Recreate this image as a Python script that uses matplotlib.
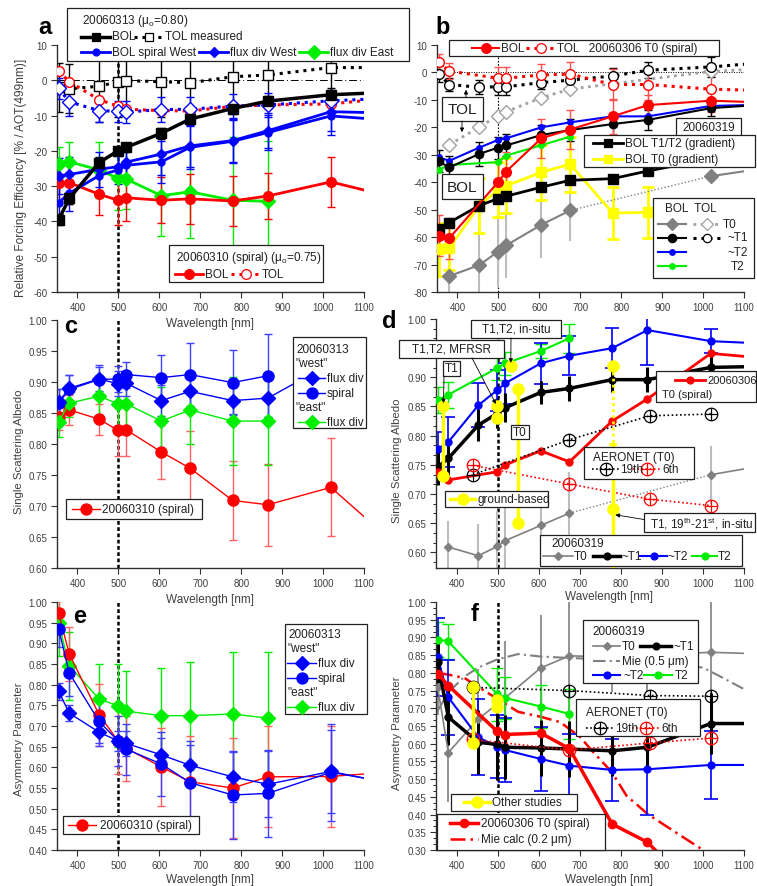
import matplotlib
matplotlib.use("Agg")
import matplotlib.pyplot as plt
import numpy as np
from matplotlib.patches import Rectangle
from matplotlib.ticker import MultipleLocator, AutoMinorLocator, FormatStrFormatter, FuncFormatter

plt.rcParams["font.family"] = ["Liberation Sans", "DejaVu Sans"]
plt.rcParams["axes.unicode_minus"] = False
plt.rcParams["mathtext.fontset"] = "custom"
plt.rcParams["mathtext.rm"] = "Liberation Sans"
plt.rcParams["mathtext.it"] = "Liberation Sans:italic"

nan = np.nan
W, H = 757, 887

# AATS-14 channels; 1241 nm lies past the right edge of every panel
WL = [354, 380, 453, 499, 519, 605, 675, 779, 865, 1019]
WL_X = WL + [1241]

# ---- a: relative forcing efficiency, 20060313 / 20060310
a_bol_0313 = [-39.5, -33.5, -23.3, -20.0, -19.0, -15.0, -11.0, -8.0, -5.9, -4.1, -3.0]
a_bol_0313_err = [1.5, 1.5, 1.5, 1.2, 1.2, 1.5, 1.5, 1.5, 1.5, 2.0, nan]
a_tol_0313 = [-2.0, -2.4, -1.7, -0.4, -0.1, -0.4, -0.7, 1.0, 1.5, 3.6, 3.6]
a_tol_0313_err = [7, 7, 10, 10, 10, 10, 10, 10, 8, 8, nan]
a_bol_0310 = [-29.2, -29.0, -32.3, -34.0, -33.3, -34.0, -33.6, -34.2, -32.8, -28.8, -35.1]
a_bol_0310_err = [5, 6, 6, 7, 6.5, 6.5, 7, 7, 6.5, 7.2, nan]
a_tol_0310 = [2.6, -0.4, -5.5, -7.3, -8.2, -8.6, -8.7, -7.4, -7.0, -6.7, -4.2]
a_spiral_w = [-34.7, -32.0, -27.0, -25.4, -24.1, -23.1, -19.0, -17.3, -14.8, -10.1, -12.0]
a_fluxdiv_w = [-27.1, -26.7, -25.2, -24.5, -23.2, -20.9, -18.6, -17.1, -14.3, -8.9, -9.5]
a_blue_err = [5, 5, 5, 4, 4, 6, 6, 6, 5, 5.5, nan]
a_fluxdiv_w_tol = [-2.3, -6.1, -8.6, -8.8, -9.0, -8.3, -8.2, -7.3, -7.0, -5.8, -4.7]
a_fluxdiv_w_tol_err = [3, 4, 3.2, 3, 3, 3.5, 3.5, 3.5, 3.5, 3, nan]
a_fluxdiv_e = [-23.8, -23.1, -25.4, -27.8, -28.0, -32.7, -31.6, -34.0, -34.3]
a_fluxdiv_e_err = [5, 5.5, 8, 9, 8.5, 11.5, 13, 18, 17]

# ---- b: 20060306 / 20060319
WL_B_RED = [354, 380, 499, 519, 605, 675, 779, 865, 1019, 1241]
b_bol_0306 = [-59.5, -60.4, -40.0, -36.1, -24.0, -20.8, -16.0, -11.9, -10.3, -11.4]
b_bol_0306_err = [7.5, 7.5, 7.5, 7, 7, 7, 6.5, 3.5, 4, nan]
b_tol_0306 = [3.8, 0.5, -2.1, -2.1, -0.9, -0.6, -4.4, -4.4, -6.1, -6.9]
b_tol_0306_err = [3, 3, 4, 4, 4, 4.5, 5.5, 5.5, 5, nan]
b_bol_t1 = [-32.4, -34.6, -29.7, -27.4, -26.6, -22.8, -21.0, -18.8, -17.3, -13.0, -10.8]
b_bol_t1_err = [4, 4, 4.5, 4, 4, 3.5, 4, 4, 3.5, 3, nan]
b_tol_t1 = [-0.6, -4.4, -5.4, -5.2, -5.2, -3.7, -2.8, -1.3, 0.8, 2.0, 4.7]
b_tol_t1_err = [3, 2.5, 2.5, 3, 3, 2.5, 3, 3, 3, 3.5, nan]
b_bol_t2a = [-30.9, -32.2, -27.4, -24.6, -24.0, -20.0, -18.2, -16.0, -16.0, -12.2, -11.4]
WL_B_T2 = [354, 380, 499, 519, 605, 675]
b_bol_t2 = [-35.5, -33.7, -32.7, -30.3, -26.5, -23.4]
WL_B_T0 = [380, 453, 499, 519, 605, 675]
b_bol_t0 = [-74.2, -70.2, -65.3, -63.0, -55.5, -50.3]
b_bol_t0_err = [12, 13, 13, 12, 12, 11]
b_tol_t0 = [-26.3, -20.0, -15.7, -14.3, -9.2, -6.1]
WL_B_T0_FAR = [1019, 1241]
b_bol_t0_far = [-37.8, -32.9]
b_tol_t0_far = [0.4, 2.0]
b_grad_t12 = [-57.0, -54.7, -48.5, -46.0, -45.1, -41.8, -39.3, -38.7, -35.9, -31.5]
b_grad_t0 = [-64.5, -64.0, -48.5, -42.8, -41.3, -36.4, -33.4, -51.2, -51.0]
b_grad_t0_err = [9.5, 8, 10, 10, 10, 10, 10, 9.4, 9.4]

# ---- c: single scattering albedo, 20060313 / 20060310
c_spiral_w = [0.866, 0.888, 0.904, 0.905, 0.912, 0.907, 0.912, 0.899, 0.910]
c_spiral_w_err = [0.022, 0.023, 0.023, 0.021, 0.021, 0.037, 0.051, 0.052, 0.067]
c_fluxdiv_w = [0.868, 0.890, 0.905, 0.897, 0.898, 0.870, 0.885, 0.870, 0.874, 0.930]
c_fluxdiv_w_err = [0.02, 0.022, 0.02, 0.02, 0.02, 0.025, 0.025, 0.022, 0.03, nan]
c_fluxdiv_e = [0.836, 0.866, 0.877, 0.865, 0.865, 0.837, 0.855, 0.837, 0.837]
c_fluxdiv_e_err = [0.025, 0.022, 0.035, 0.04, 0.045, 0.055, 0.055, 0.071, 0.071]
c_spiral_0310 = [0.843, 0.855, 0.840, 0.822, 0.823, 0.787, 0.761, 0.709, 0.702, 0.730, 0.601]
c_spiral_0310_err = [0.02, 0.024, 0.025, 0.042, 0.042, 0.044, 0.06, 0.064, 0.066, 0.079, nan]

# ---- d: single scattering albedo, 20060319 / 20060306
WL_D_T0 = [380, 453, 499, 519, 605, 675]
d_t0 = [0.609, 0.594, 0.610, 0.620, 0.646, 0.667]
d_t0_err = [0.045, 0.055, 0.06, 0.07, 0.05, 0.07]
WL_D_T0_FAR = [1019, 1241]
d_t0_far = [0.733, 0.760]
d_t0_far_err = [0.05, nan]
d_t1 = [0.746, 0.761, 0.818, 0.838, 0.848, 0.874, 0.881, 0.896, 0.896, 0.917, 0.920]
d_t1_err = [0.03, 0.03, 0.028, 0.025, 0.025, 0.02, 0.022, 0.022, 0.022, 0.022, nan]
d_t2a = [0.777, 0.789, 0.852, 0.878, 0.890, 0.924, 0.937, 0.950, 0.981, 0.962, 0.955]
d_t2a_err = [0.03, 0.043, 0.038, 0.035, 0.035, 0.035, 0.033, 0.034, 0.06, 0.02, nan]
WL_D_T2 = [354, 380, 499, 519, 605, 675]
d_t2 = [0.861, 0.870, 0.916, 0.924, 0.945, 0.967]
d_t2_err = [0.023, 0.022, 0.02, 0.02, 0.012, 0.025]
d_0306 = [0.738, 0.724, 0.738, 0.750, 0.774, 0.755, 0.825, 0.863, 0.941, 0.927]
AERONET_WL = [440, 675, 870, 1020]
d_aeronet_19 = [0.733, 0.793, 0.834, 0.837]
d_aeronet_06 = [0.749, 0.717, 0.691, 0.680]
d_ground_wl = [368, 499, 550]
d_ground_hi = [0.851, 0.850, 0.880]
d_ground_lo = [0.731, 0.830, 0.650]
d_insitu_t12 = (532, 0.920)
d_insitu_t1_wl = 780
d_insitu_t1_top = 0.920
d_insitu_t1 = 0.675
d_insitu_t1_range = (0.785, 0.550)

# ---- e: asymmetry parameter, 20060313 / 20060310
e_spiral_0310 = [0.973, 0.874, 0.727, 0.664, 0.646, 0.601, 0.565, 0.550, 0.577, 0.578, 0.594]
e_spiral_0310_err = [0.03, 0.065, 0.075, 0.08, 0.078, 0.095, 0.11, 0.12, 0.122, 0.122, nan]
e_fluxdiv_w = [0.784, 0.731, 0.685, 0.664, 0.658, 0.630, 0.605, 0.577, 0.559, 0.590, 0.546]
e_fluxdiv_w_err = [0.02, 0.02, 0.025, 0.025, 0.03, 0.04, 0.05, 0.06, 0.08, 0.1, nan]
e_spiral_w = [0.935, 0.828, 0.711, 0.664, 0.644, 0.608, 0.563, 0.533, 0.537, 0.588, 0.550]
e_spiral_w_err = [0.045, 0.055, 0.06, 0.06, 0.062, 0.077, 0.1, 0.107, 0.105, 0.117, nan]
e_fluxdiv_e = [0.949, 0.846, 0.765, 0.749, 0.736, 0.725, 0.725, 0.729, 0.719]
e_fluxdiv_e_err = [0.08, 0.082, 0.084, 0.1, 0.098, 0.115, 0.131, 0.151, 0.161]

# ---- f: asymmetry parameter, 20060319 / 20060306
WL_F_T0 = [354, 380, 453, 519, 605, 675, 779, 865, 1019, 1241]
f_t0 = [0.760, 0.575, 0.670, 0.730, 0.814, 0.848, 0.845, 0.850, 0.858, 0.850]
f_t0_err = [0.08, 0.14, 0.14, 0.16, 0.15, 0.16, 0.10, 0.10, 0.16, nan]
f_t1 = [0.830, 0.675, 0.604, 0.598, 0.590, 0.588, 0.585, 0.580, 0.590, 0.657, 0.657]
f_t1_err = [0.06, 0.08, 0.09, 0.1, 0.09, 0.08, 0.08, 0.07, 0.07, 0.085, nan]
f_t2a = [0.845, 0.731, 0.618, 0.592, 0.582, 0.557, 0.538, 0.526, 0.528, 0.540, 0.540]
f_t2a_err = [0.11, 0.105, 0.107, 0.09, 0.09, 0.09, 0.09, 0.087, 0.13, 0.097, nan]
WL_F_T2 = [354, 380, 499, 519, 605, 675]
f_t2 = [0.894, 0.889, 0.740, 0.729, 0.705, 0.684]
f_t2_err = [0.05, 0.05, 0.075, 0.06, 0.06, 0.07]
WL_F_RED = [354, 380, 499, 519, 605, 675, 779, 865, 1019]
f_0306 = [0.798, 0.764, 0.635, 0.626, 0.630, 0.586, 0.373, 0.322, 0.140]
MIE05_WL = [354, 380, 420, 453, 499, 550, 605, 675, 760, 870, 1000, 1050, 1100]
f_mie05 = [0.693, 0.745, 0.790, 0.815, 0.838, 0.853, 0.846, 0.842, 0.838, 0.830, 0.815, 0.785, 0.754]
MIE02_WL = [354, 380, 420, 453, 499, 550, 605, 652, 700, 733, 778, 814, 867, 1000, 1100]
f_mie02 = [0.800, 0.795, 0.785, 0.760, 0.727, 0.690, 0.676, 0.661, 0.620, 0.576, 0.520, 0.453, 0.400, 0.300, 0.220]
f_aeronet_19 = [0.759, 0.750, 0.736, 0.734]
f_aeronet_06 = [0.612, 0.582, 0.602, 0.616]
f_other_wl = [440, 499]
f_other_hi = [0.759, 0.722]
f_other_lo = [0.602, 0.703]

RED, BLUE, GREEN, YEL = "#ff0000", "#0000ff", "#00ee00", "#ffff00"
GRAY, LGRAY = "#808080", "#bdbdbd"
TXT = "#202020"
DOT = (0, (1, 1.6))
DASHDOT = (0, (6, 2, 1, 2))

fig = plt.figure(figsize=(W / 100, H / 100), dpi=100)


def panel(x0, y0, x1, y1):
    return fig.add_axes([x0 / W, 1 - y1 / H, (x1 - x0) / W, (y1 - y0) / H])


def frame(ax, ylim, ystep, yfmt, minor=False):
    ax.set_xlim(350, 1100)
    ax.set_ylim(*ylim)
    ax.xaxis.set_major_locator(MultipleLocator(100))
    ax.yaxis.set_major_locator(MultipleLocator(ystep))
    ax.yaxis.set_major_formatter(FormatStrFormatter(yfmt))
    if minor:
        ax.yaxis.set_minor_locator(AutoMinorLocator(3))
    for s in ("top", "right"):
        ax.spines[s].set_visible(False)
    for s in ("left", "bottom"):
        ax.spines[s].set_color("#303030")
        ax.spines[s].set_linewidth(1.0)
    ax.tick_params(direction="out", length=4, width=0.8, labelsize=7,
                   colors="#303030", labelcolor="#404040", pad=3)
    ax.tick_params(which="minor", direction="out", length=2, width=0.6)
    ax.patch.set_alpha(0)


def trace(ax, x, y, color, err=None, ecolor=None, elw=1.0, cap=3, lw=1.5,
          ls="-", marker="o", ms=6, mfc=None, z=3):
    if err is not None:
        ax.errorbar(x, y, yerr=err, fmt="none", ecolor=ecolor or color,
                    elinewidth=elw, capsize=cap, capthick=elw, zorder=z - 0.5)
    ax.plot(x, y, color=color, lw=lw, ls=ls, marker=marker, ms=ms,
            mfc=mfc or color, mec=color, mew=1, zorder=z)


def crossed(ax, x, y, color, lw=1.2):
    ax.plot(x, y, color=color, lw=lw, ls=(0, (1, 1.5)), marker="o", ms=9,
            mfc="none", mec=color, mew=0.9, zorder=4)
    ax.plot(x, y, ls="none", marker="+", ms=9, mec=color, mew=0.9, zorder=4)


def vline500(ax, thin=False):
    if thin:
        ax.axvline(500, color="k", lw=0.8, ls=(0, (1.5, 1.5)), zorder=1)
    else:
        ax.axvline(500, color="k", lw=1.8, ls=(0, (1.5, 1.0)), zorder=1)


# ================= panel a =================
axa = panel(57, 46, 364, 293)
frame(axa, (-60, 10), 10, "%d")
axa.axhline(0, color="k", lw=0.7, ls=(0, (8, 3, 1, 3)), zorder=1)
vline500(axa)
trace(axa, WL_X, a_tol_0313, "k", a_tol_0313_err, lw=2.2, ls=DOT,
      marker="s", ms=7, mfc="white")
trace(axa, WL_X, a_tol_0310, RED, lw=2.2, ls=DOT, marker="o", ms=7, mfc="white")
trace(axa, WL_X, a_fluxdiv_w_tol, BLUE, a_fluxdiv_w_tol_err, lw=2.2, ls=DOT,
      marker="D", ms=7, mfc="white")
trace(axa, WL[:9], a_fluxdiv_e, GREEN, a_fluxdiv_e_err, lw=2, marker="D", ms=7)
trace(axa, WL_X, a_bol_0310, RED, a_bol_0310_err, lw=2, marker="o", ms=7)
trace(axa, WL_X, a_spiral_w, BLUE, a_blue_err, lw=2, marker="o", ms=5)
trace(axa, WL_X, a_fluxdiv_w, BLUE, a_blue_err, lw=2, marker="D", ms=5)
trace(axa, WL_X, a_bol_0313, "k", a_bol_0313_err, lw=2.5, marker="s", ms=7)

# ================= panel b =================
axb = panel(437, 46, 744, 293)
frame(axb, (-80, 10), 10, "%d")
axb.axhline(0, color="k", lw=0.7, ls=(0, (1, 1.5)), zorder=1)
vline500(axb, thin=True)
axb.errorbar(WL_B_T0, b_bol_t0, yerr=b_bol_t0_err, fmt="none", ecolor=LGRAY,
             elinewidth=1.5, capsize=0, zorder=2)
axb.plot(WL_B_T0, b_bol_t0, color=GRAY, lw=1.5, marker="D", ms=7, zorder=3)
axb.plot([WL_B_T0[-1], WL_B_T0_FAR[0]], [b_bol_t0[-1], b_bol_t0_far[0]],
         color=GRAY, lw=1, ls=(0, (1, 1.5)), zorder=3)
axb.plot(WL_B_T0_FAR, b_bol_t0_far, color=GRAY, lw=1.5, marker="D", ms=7, zorder=3)
axb.plot(WL_B_T0 + WL_B_T0_FAR, b_tol_t0 + b_tol_t0_far, color="#a0a0a0", lw=2,
         ls=DOT, marker="D", ms=7, mfc="white", mec="#a0a0a0", zorder=3)
trace(axb, WL[:9], b_grad_t0, YEL, b_grad_t0_err, elw=2, cap=4, lw=2, marker="s", ms=7)
trace(axb, WL, b_grad_t12, "k", lw=2, marker="s", ms=7)
trace(axb, WL_B_T2, b_bol_t2, GREEN, lw=1.5, marker="o", ms=4)
trace(axb, WL_X, b_bol_t2a, BLUE, lw=1.5, marker="o", ms=4)
trace(axb, WL_X, b_tol_t1, "k", b_tol_t1_err, lw=2.2, ls=DOT, marker="o",
      ms=7, mfc="white")
trace(axb, WL_X, b_bol_t1, "k", b_bol_t1_err, lw=1.5, marker="o", ms=6)
trace(axb, WL_B_RED, b_tol_0306, RED, b_tol_0306_err, ecolor="#ff5050", lw=2.2,
      ls=DOT, marker="o", ms=7, mfc="white")
trace(axb, WL_B_RED, b_bol_0306, RED, b_bol_0306_err, ecolor="#ff5050", lw=1.5,
      marker="o", ms=7)

# ================= panel c =================
axc = panel(57, 321, 364, 569)
frame(axc, (0.60, 1.00), 0.05, "%.2f")
vline500(axc)
trace(axc, WL_X, c_spiral_0310, RED, c_spiral_0310_err, ecolor="#ff6060", lw=1,
      marker="o", ms=8)
trace(axc, WL[:9], c_fluxdiv_e, GREEN, c_fluxdiv_e_err, lw=1, marker="D", ms=7)
trace(axc, WL, c_fluxdiv_w, BLUE, c_fluxdiv_w_err, ecolor="#4040ff", lw=1, marker="D", ms=7)
trace(axc, WL[:9], c_spiral_w, BLUE, c_spiral_w_err, ecolor="#4040ff", lw=1, marker="o", ms=8)

# ================= panel d =================
axd = panel(436, 320, 744, 569)
frame(axd, (0.573, 1.00), 0.05, "%.2f", minor=True)
# the 0.95 label sits under the MFRSR note box
axd.yaxis.set_major_formatter(FuncFormatter(lambda v, p: "" if abs(v - 0.95) < 1e-6 else "%.2f" % v))
vline500(axd)
axd.errorbar(WL_D_T0 + WL_D_T0_FAR, d_t0 + d_t0_far, yerr=d_t0_err + d_t0_far_err,
             fmt="none", ecolor=LGRAY, elinewidth=1.5, capsize=0, zorder=2)
axd.plot(WL_D_T0, d_t0, color=GRAY, lw=1.2, marker="D", ms=4, zorder=3)
axd.plot([WL_D_T0[-1], WL_D_T0_FAR[0]], [d_t0[-1], d_t0_far[0]], color=GRAY, lw=1,
         ls=(0, (1, 1.5)), zorder=3)
axd.plot(WL_D_T0_FAR, d_t0_far, color=GRAY, lw=1.2, marker="D", ms=4, zorder=3)
crossed(axd, AERONET_WL, d_aeronet_19, "k")
crossed(axd, AERONET_WL, d_aeronet_06, RED)
trace(axd, WL_D_T2, d_t2, GREEN, d_t2_err, cap=4, lw=1.5, marker="o", ms=5)
trace(axd, WL_X, d_t2a, BLUE, d_t2a_err, elw=1.2, cap=5, lw=1.5, marker="o", ms=5)
trace(axd, WL_X, d_t1, "k", d_t1_err, elw=2.2, cap=0, lw=2.5, marker="o", ms=5)
trace(axd, WL_B_RED, d_0306, RED, lw=2, marker="o", ms=5)
for x, hi, lo in zip(d_ground_wl, d_ground_hi, d_ground_lo):
    axd.plot([x, x], [hi, lo], color=YEL, lw=2.5, marker="o", ms=8, zorder=5)
axd.plot(*d_insitu_t12, color=YEL, marker="o", ms=8, zorder=5)
axd.plot([d_insitu_t1_wl] * 2, [d_insitu_t1_top, d_insitu_t1_range[0]], color=YEL,
         lw=2, ls=(0, (1, 1.2)), zorder=5)
axd.plot([d_insitu_t1_wl - 6, d_insitu_t1_wl + 6], [d_insitu_t1_range[0]] * 2,
         color=YEL, lw=2, zorder=5)
axd.plot(d_insitu_t1_wl, d_insitu_t1_top, color=YEL, marker="o", ms=8, zorder=5)
axd.plot([d_insitu_t1_wl] * 2, list(d_insitu_t1_range), color=YEL, lw=2.5, zorder=5)
axd.plot(d_insitu_t1_wl, d_insitu_t1, color=YEL, marker="o", ms=8, zorder=5)

# ================= panel e =================
axe = panel(57, 603, 364, 851)
frame(axe, (0.40, 1.00), 0.05, "%.2f")
vline500(axe)
trace(axe, WL[:9], e_fluxdiv_e, GREEN, e_fluxdiv_e_err, lw=1, marker="D", ms=7)
trace(axe, WL_X, e_spiral_0310, RED, e_spiral_0310_err, ecolor="#ff6060", lw=1,
      marker="o", ms=8)
trace(axe, WL_X, e_fluxdiv_w, BLUE, e_fluxdiv_w_err, ecolor="#4040ff", lw=1, marker="D", ms=7)
trace(axe, WL_X, e_spiral_w, BLUE, e_spiral_w_err, ecolor="#4040ff", lw=1, marker="o", ms=8)

# ================= panel f =================
axf = panel(436, 603, 744, 851)
frame(axf, (0.30, 1.00), 0.05, "%.2f", minor=True)
vline500(axf)
axf.plot(MIE05_WL, f_mie05, color=GRAY, lw=1.5, ls=DASHDOT, zorder=2)
axf.plot(MIE02_WL, f_mie02, color=RED, lw=1.8, ls=DASHDOT, zorder=2)
axf.errorbar(WL_F_T0, f_t0, yerr=f_t0_err, fmt="none", ecolor=GRAY, elinewidth=1.2,
             capsize=0, zorder=2)
axf.plot(WL_F_T0, f_t0, color=GRAY, lw=1.2, marker="D", ms=4, zorder=3)
crossed(axf, AERONET_WL, f_aeronet_19, "k")
crossed(axf, AERONET_WL, f_aeronet_06, RED)
trace(axf, WL_F_T2, f_t2, GREEN, f_t2_err, cap=4, lw=1.5, marker="o", ms=5)
trace(axf, WL_X, f_t2a, BLUE, f_t2a_err, elw=1.2, cap=5, lw=1.5, marker="o", ms=5)
trace(axf, WL_X, f_t1, "k", f_t1_err, elw=2.2, cap=0, lw=2.5, marker="o", ms=5)
trace(axf, WL_F_RED, f_0306, RED, lw=2.5, marker="o", ms=6)
for x, hi, lo in zip(f_other_wl, f_other_hi, f_other_lo):
    axf.plot([x, x], [hi, lo], color=YEL, lw=2.5, marker="o", ms=8, zorder=5)

# ================= overlay: labels, legends, notes =================
ov = fig.add_axes([0, 0, 1, 1])
ov.set_xlim(0, W)
ov.set_ylim(H, 0)
ov.axis("off")
ov.set_zorder(10)
ov.patch.set_alpha(0)


def box(x0, y0, x1, y1):
    ov.add_patch(Rectangle((x0, y0), x1 - x0, y1 - y0, fc="white", ec="#202020",
                           lw=0.9, zorder=1))


def txt(x, y, s, size=8.5, ha="left", color=TXT, **kw):
    ov.text(x, y, s, fontsize=size, ha=ha, va="center", color=color, zorder=3, **kw)


def sample(x, y, color, w=28, lw=1.5, ls="-", marker="o", ms=6, mfc=None,
           mec=None, cross=False):
    ov.plot([x, x + w], [y, y], color=color, lw=lw, ls=ls, zorder=2)
    if marker:
        ov.plot([x + w / 2], [y], marker=marker, ms=ms, color=color,
                mfc=mfc or color, mec=mec or color, mew=0.9, zorder=2.5)
    if cross:
        ov.plot([x + w / 2], [y], marker="+", ms=ms, mec=color, mew=0.9, zorder=2.5)


def arrow(xy, xytext, xycoords="data"):
    ov.annotate("", xy=xy, xycoords=xycoords, xytext=xytext, textcoords="data",
                arrowprops=dict(arrowstyle="-|>", lw=0.6, color="k",
                                mutation_scale=6, shrinkA=0, shrinkB=2), zorder=3)


# axis titles
for x, y in [(210, 324), (210, 600), (210, 880), (609, 597), (609, 880)]:
    ov.text(x, y, "Wavelength [nm]", fontsize=8.5, ha="center", va="center",
            color="#404040", zorder=0.5)
for x, y, s, size in [(21, 178, "Relative Forcing Efficiency [% / AOT(499nm)]", 8.6),
                      (19, 452, "Single Scattering Albedo", 8.2),
                      (19, 739, "Asymmetry Parameter", 8.2),
                      (397, 461, "Single Scattering Albedo", 8.2),
                      (397, 733, "Asymmetry Parameter", 8.2)]:
    ov.text(x, y, s, fontsize=size, rotation=90, ha="center", va="center",
            color="#404040", zorder=0.5)
for x, y, s in [(45, 27, "a"), (443, 27, "b"), (71, 327, "c"), (389, 322, "d"),
                (80, 617, "e"), (475, 615, "f")]:
    ov.text(x, y, s, fontsize=17, fontweight="bold", ha="center", va="center",
            color="k", zorder=0.5)

# a legends
box(67, 9, 409, 62)
txt(82, 21, "20060313 (μ$_\\mathrm{o}$=0.80)")
sample(81, 37.5, "k", w=29, lw=2.5, marker="s", ms=6)
txt(112, 37.5, "BOL")
sample(134, 37.5, "k", w=29, lw=2.2, ls=DOT, marker="s", ms=6, mfc="white")
txt(165, 37.5, "TOL measured")
sample(81, 53, BLUE, w=29, lw=2, marker="o", ms=5)
txt(112, 53, "BOL spiral West")
sample(199, 53, BLUE, w=29, lw=2, marker="D", ms=5)
txt(230, 53, "flux div West")
sample(299, 53, GREEN, w=29, lw=2, marker="D", ms=7)
txt(330, 53, "flux div East")

box(169, 246, 323, 283)
txt(176, 258, "20060310 (spiral) (μ$_\\mathrm{o}$=0.75)")
sample(175, 275, RED, w=28, lw=2, marker="o", ms=7)
txt(205, 275, "BOL")
sample(231, 275, RED, w=29, lw=2.2, ls=DOT, marker="o", ms=7, mfc="white")
txt(262, 275, "TOL")

# b legends and notes
box(449, 41, 719, 57)
sample(472, 49, RED, w=27, lw=1.5, marker="o", ms=7)
txt(501, 49, "BOL")
sample(526, 49, RED, w=29, lw=2.2, ls=DOT, marker="o", ms=7, mfc="white")
txt(557, 49, "TOL   20060306 T0 (spiral)")

box(442, 98, 483, 122)
txt(462.5, 110, "TOL", size=11, ha="center")
box(442, 175, 483, 200)
txt(462.5, 187.5, "BOL", size=11, ha="center")
arrow((466, 88), (466, 98))
arrow((462, 136), (462, 122))

box(676, 119, 741, 137)
txt(708.5, 128, "20060319", ha="center")
box(584, 136, 755, 168)
sample(593, 144, "k", w=30, lw=2, marker="s", ms=6)
txt(625, 144, "BOL T1/T2 (gradient)")
sample(593, 159.5, YEL, w=30, lw=2, marker="s", ms=6)
txt(625, 159.5, "BOL T0 (gradient)")

box(653, 199, 754, 279)
txt(665, 209.5, "BOL  TOL")
sample(658, 225, GRAY, w=28, lw=1.5, marker="D", ms=6)
sample(693, 225, "#a0a0a0", w=28, lw=2, ls=DOT, marker="D", ms=6, mfc="white")
txt(723, 225, "T0")
sample(658, 238.5, "k", w=28, lw=1.5, marker="o", ms=6)
sample(693, 238.5, "k", w=28, lw=2.2, ls=DOT, marker="o", ms=6, mfc="white")
txt(728, 238.5, "~T1")
sample(658, 253, BLUE, w=28, lw=1.5, marker="o", ms=4)
txt(728, 253, "~T2")
sample(658, 267, GREEN, w=28, lw=1.5, marker="o", ms=4)
txt(731, 267, "T2")

# c legends
box(293, 338, 366, 429)
txt(296, 350, "20060313")
txt(296, 364.5, "\"west\"")
sample(298, 379, BLUE, w=27, lw=1, marker="D", ms=7)
txt(327, 379, "flux div")
sample(298, 394, BLUE, w=27, lw=1, marker="o", ms=8)
txt(327, 394, "spiral")
txt(296, 408.5, "\"east\"")
sample(298, 423, GREEN, w=27, lw=1, marker="D", ms=7)
txt(327, 423, "flux div")

box(66, 500, 202, 520)
sample(72, 510, RED, w=28, lw=1, marker="o", ms=8)
txt(102, 510, "20060310 (spiral)")

# d legends and notes
box(656, 372, 756, 403)
sample(675, 381, RED, w=30, lw=2, marker="o", ms=5)
txt(707, 381, "20060306", size=8)
txt(662, 395, "T0 (spiral)", size=8)

box(584, 448, 694, 480)
txt(593, 458.5, "AERONET (T0)")
sample(592, 470, "k", w=27, lw=1.2, ls=(0, (1, 1.5)), marker="o", ms=9, mfc="none",
       cross=True)
txt(620, 470, "19th")
sample(633, 470, RED, w=27, lw=1.2, ls=(0, (1, 1.5)), marker="o", ms=9, mfc="none",
       cross=True)
txt(662, 470, "6th")

box(445, 492, 548, 508)
sample(450, 500, YEL, w=25, lw=2.5, marker="o", ms=8)
txt(477, 500, "ground-based")

box(540, 536, 742, 567)
txt(551, 544, "20060319")
sample(543, 557, GRAY, w=30, lw=1.2, marker="D", ms=4)
txt(574, 557, "T0")
sample(593, 557, "k", w=27, lw=2.5, marker="o", ms=5)
txt(622, 557, "~T1")
sample(640, 557, BLUE, w=27, lw=1.5, marker="o", ms=5)
txt(668, 557, "~T2")
sample(692, 557, GREEN, w=25, lw=1.5, marker="o", ms=5)
txt(718, 557, "T2")

box(471, 321, 561, 339)
txt(516, 330, "T1,T2, in-situ", ha="center")
arrow(d_insitu_t12, (511, 339), xycoords=axd.transData)
box(399, 341, 504, 359)
txt(451.5, 350, "T1,T2, MFRSR", ha="center")
arrow((d_ground_wl[1], d_ground_hi[1]), (472, 359), xycoords=axd.transData)
box(443, 362, 460, 377)
txt(451.5, 369.5, "T1", ha="center")
arrow((d_ground_wl[0], d_ground_hi[0]), (444, 377), xycoords=axd.transData)
box(511, 426, 529, 440)
txt(520, 433, "T0", ha="center")
box(644, 514, 755, 533)
txt(650, 523.5, "T1, 19$^{\\mathrm{th}}$-21$^{\\mathrm{st}}$, in-situ")
arrow((d_insitu_t1_wl, 0.665), (644, 520.5), xycoords=axd.transData)

# e legends
box(285, 625, 367, 715)
txt(288, 635, "20060313")
txt(288, 649.5, "\"west\"")
sample(287, 664, BLUE, w=29, lw=1, marker="D", ms=7)
txt(318, 664, "flux div")
sample(287, 679, BLUE, w=29, lw=1, marker="o", ms=8)
txt(318, 679, "spiral")
txt(288, 693.5, "\"east\"")
sample(287, 708, GREEN, w=29, lw=1, marker="D", ms=7)
txt(318, 708, "flux div")

box(63, 817, 199, 835)
sample(68, 826, RED, w=28, lw=1, marker="o", ms=8)
txt(100, 826, "20060310 (spiral)")

# f legends
box(583, 621, 698, 684)
txt(592, 632, "20060319")
sample(593, 647, GRAY, w=27, lw=1.2, marker="D", ms=4)
txt(622, 647, "T0")
sample(640, 647, "k", w=31, lw=2.5, marker="o", ms=5)
txt(673, 647, "~T1")
sample(593, 662, GRAY, w=27, lw=1.5, ls=DASHDOT, marker=None)
txt(622, 662, "Mie (0.5 μm)")
sample(593, 676, BLUE, w=27, lw=1.5, marker="o", ms=5)
txt(623, 676, "~T2")
sample(644, 676, GREEN, w=28, lw=1.5, marker="o", ms=5)
txt(675, 676, "T2")

box(576, 700, 700, 737)
txt(586, 713.5, "AERONET (T0)")
sample(586, 729, "k", w=27, lw=1.2, ls=(0, (1, 1.5)), marker="o", ms=9, mfc="none",
       cross=True)
txt(615, 729, "19th")
sample(632, 729, RED, w=27, lw=1.2, ls=(0, (1, 1.5)), marker="o", ms=9, mfc="none",
       cross=True)
txt(661, 729, "6th")

box(451, 795, 577, 812)
sample(464, 803.5, YEL, w=26, lw=2.5, marker="o", ms=8)
txt(492, 803.5, "Other studies")

box(437, 815, 605, 851)
sample(450, 824.5, RED, w=28, lw=2.5, marker="o", ms=6)
txt(481, 824.5, "20060306 T0 (spiral)")
sample(450, 840, RED, w=28, lw=1.8, ls=DASHDOT, marker=None)
txt(481, 840, "Mie calc (0.2 μm)")

fig.savefig("out.png", dpi=100, facecolor="white")
